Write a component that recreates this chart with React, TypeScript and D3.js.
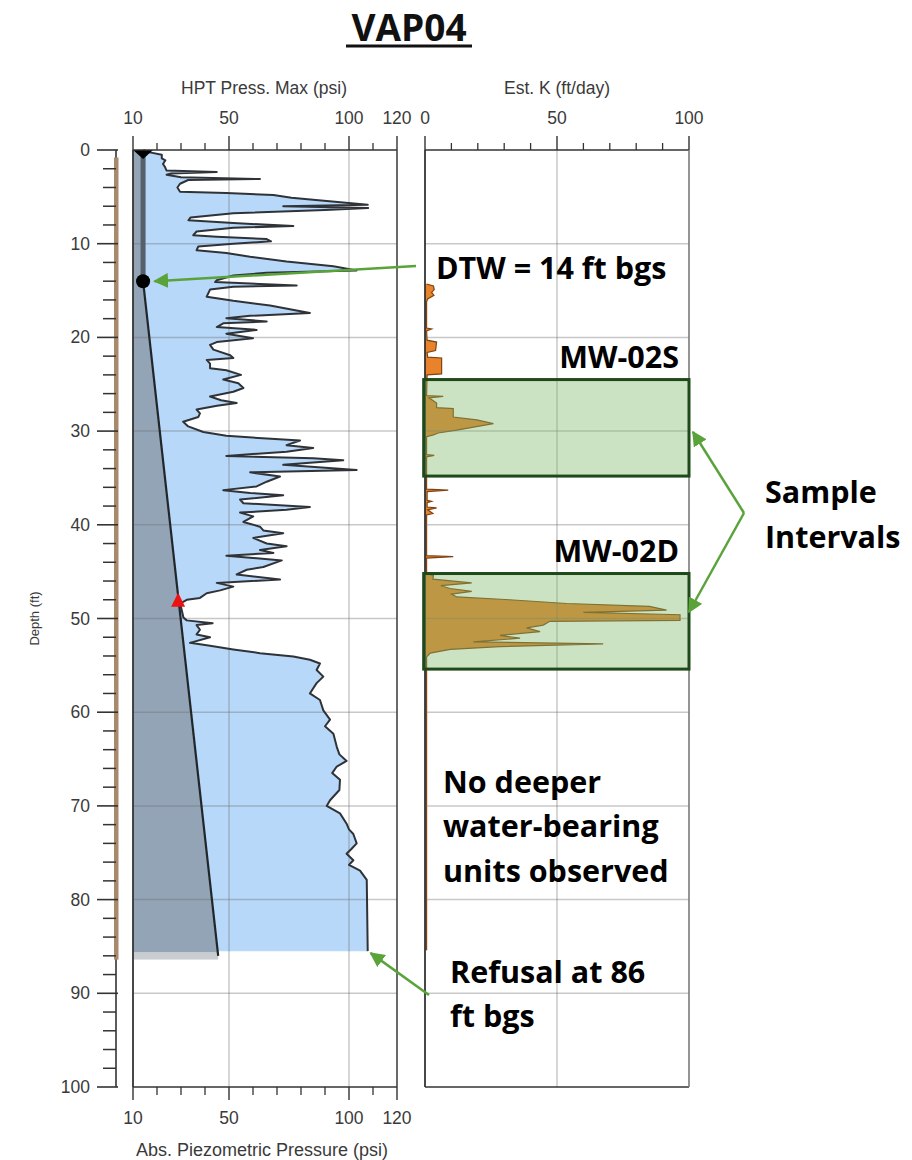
import React from "react";
import * as d3 from "d3";

// ---------------- DATA ----------------
// HPT pressure max trace: depth (ft) and pressure (psi)
const hptDepth = [
  0.0, 0.2, 0.5, 0.9, 1.1, 1.5, 1.8, 2.2, 2.35, 2.5, 2.65, 2.9, 3.1, 3.2, 3.6, 4.0, 4.45, 4.6, 4.8, 5.1,
  5.5, 5.85, 6.0, 6.2, 6.4, 6.75, 7.2, 7.5, 7.8, 8.1, 8.3, 8.7, 9.1, 9.25, 9.5, 9.75, 10.0, 10.3, 10.7, 11.0,
  11.4, 11.9, 12.4, 12.85, 13.1, 13.4, 13.9, 14.1, 14.3, 14.45, 14.6, 14.9, 15.65, 16.1, 16.6, 17.4, 17.7, 17.95, 18.3, 18.5,
  18.9, 19.2, 19.6, 20.1, 20.5, 20.8, 21.3, 21.9, 22.2, 22.4, 22.8, 23.3, 23.5, 24.0, 24.5, 24.9, 25.4, 25.8, 26.3, 26.7,
  27.0, 27.3, 27.7, 28.1, 28.5, 29.0, 29.5, 30.1, 30.5, 30.8, 31.0, 31.5, 31.8, 32.2, 32.65, 32.9, 33.1, 33.6, 34.15, 34.4,
  34.85, 35.4, 35.9, 36.3, 36.6, 36.85, 37.3, 37.7, 38.1, 38.4, 38.7, 39.1, 39.7, 40.2, 40.6, 40.9, 41.4, 42.0, 42.3, 42.7,
  43.0, 43.3, 43.8, 44.5, 44.8, 45.3, 45.85, 46.2, 46.6, 47.0, 47.3, 47.8, 48.0, 48.4, 49.1, 49.9, 50.2, 50.5, 50.7, 51.2,
  51.7, 52.0, 52.6, 52.9, 53.3, 53.7, 54.05, 54.4, 54.8, 55.5, 56.2, 56.9, 58.0, 58.7, 59.8, 60.8, 61.5, 62.3, 63.7, 64.5,
  65.2, 65.8, 66.5, 67.2, 68.3, 69.4, 70.0, 70.8, 71.9, 72.5, 73.0, 74.0, 74.6, 75.1, 75.8, 76.3, 76.9, 77.9, 85.5,
];
const hptPsi = [
  14.3, 16, 22, 22.0, 23.5, 22.5, 23.3, 24, 44.9, 26, 24, 30, 62.9, 33, 29.6, 28.5, 29.6, 48.9, 68.5, 76,
  93, 107.8, 72.6, 108, 90, 51.8, 34, 33.1, 51.8, 76.8, 51.8, 36.5, 35.1, 44.9, 65.7, 67.5, 51.8, 37.2, 36.5, 48.9,
  58.8, 74, 93.5, 103.2, 65.7, 51.8, 44.9, 44.2, 62.9, 78.2, 51.8, 42.1, 40.7, 51.8, 67.1, 83.7, 58.8, 48.9, 65.7, 47.6,
  44.9, 61.5, 48.9, 60, 44.9, 42.1, 43.5, 50.5, 51.8, 40.7, 42.1, 42.1, 48.9, 55, 47.6, 53.9, 56, 51.8, 42.1, 46.7,
  53.2, 45, 36.5, 37.9, 37.2, 30.9, 33, 39.3, 48.9, 65.7, 79.6, 74, 85.1, 74, 48.9, 85.1, 97.6, 72.6, 103.2, 58.8,
  71.25, 65.7, 61.5, 47.6, 58.8, 72.6, 54.6, 56, 83.7, 74, 54.6, 60.1, 56, 62.9, 64.3, 72.6, 60.1, 65.7, 74, 62.9,
  68.5, 48.9, 72, 64.3, 57.4, 53.2, 71.25, 44.9, 51.8, 46.3, 40.7, 37.9, 32.4, 29.6, 30.3, 31, 32.4, 43.2, 36.5, 37.9,
  36.5, 42.1, 33.75, 42.1, 51.8, 62.9, 76.8, 83.7, 87.9, 86.5, 89.3, 86.5, 83.7, 87.9, 89.3, 92.1, 90, 93.5, 94.9, 96,
  99, 94.9, 93, 96.25, 96, 92.1, 90.7, 96.25, 99, 100, 101.8, 103.2, 101, 99, 101.8, 100, 104.6, 107.4, 107.8,
];

// Estimated K trace: depth (ft) and K (ft/day)
const kDepth = [
  14.3, 14.5, 14.9, 15.2, 15.5, 15.9, 16.2, 19.0, 19.1, 19.3, 20.3, 20.5, 21.4, 21.6, 22.1, 22.2, 23.9, 24.0, 26.2, 26.3,
  26.45, 27.0, 27.5, 27.6, 28.5, 28.8, 29.2, 29.5, 29.9, 30.2, 30.4, 30.6, 32.5, 32.6, 32.75, 36.2, 36.3, 36.45, 37.4, 37.5,
  37.65, 38.1, 38.2, 38.4, 38.8, 38.95, 43.3, 43.4, 43.55, 45.2, 45.4, 45.8, 46.2, 46.5, 46.8, 47.1, 47.4, 47.7, 48.0, 48.4,
  48.7, 49.1, 49.35, 49.6, 50.2, 50.3, 50.7, 51.0, 51.4, 51.8, 52.1, 52.5, 52.7, 53.0, 53.3, 53.7, 54.1, 85.4,
];
const kValue = [
  0.6, 3.2, 3.5, 2.5, 3.4, 1.0, 0.6, 0.6, 2.5, 0.6, 0.8, 4.4, 4.0, 0.8, 1.0, 6.3, 6.3, 0.8, 0.6, 6.9,
  1.5, 4.4, 4.4, 10.7, 10.7, 19.6, 25.9, 20, 12, 5, 3.2, 0.6, 0.6, 3.5, 0.6, 0.6, 8.8, 0.8, 0.8, 2.5,
  0.8, 0.8, 4.4, 1.0, 3.0, 0.6, 0.6, 10.7, 0.6, 0.6, 3.2, 3.0, 17.7, 6, 9.5, 17.7, 10, 12, 32, 53.7,
  85, 91.5, 60, 96.6, 96.6, 47.3, 44.8, 38.5, 43.6, 28.4, 36, 18.3, 67.5, 28.4, 9.5, 2, 0.6, 0.6,
];

// Hydrostatic (absolute piezometric) line
const piezoDepth = [0, 14, 86];
const piezoPsi = [14.2, 14.2, 45.5];

const depthMajorTicks = [0, 10, 20, 30, 40, 50, 60, 70, 80, 90, 100];
const hptMajorTicks = [10, 50, 100, 120];
const hptMinorTicks = [20, 30, 40, 60, 70, 80, 90, 110];
const kMajorTicks = [0, 50, 100];
const kMinorTicks = [10, 20, 30, 40, 60, 70, 80, 90];
const hptGrid = [50, 100];
const kGrid = [50];

const sampleNames = ["MW-02S", "MW-02D"];
const sampleTops = [24.5, 45.2];
const sampleBottoms = [34.8, 55.4];

const dtwDepth = 14;
const markerDepth = 48.2;
const markerPsi = 28.8;
const refusalDepth = 85.5;

// ---------------- CHART ----------------
export default function App() {
  const y = d3.scaleLinear().domain([0, 100]).range([150, 1087]);
  const xH = d3.scaleLinear().domain([10, 120]).range([133, 397]);
  const xK = d3.scaleLinear().domain([0, 100]).range([425, 689]);

  const hpt = hptDepth.map((d, i) => ({ d, v: hptPsi[i] }));
  const kData = kDepth.map((d, i) => ({ d, v: kValue[i] }));
  const piezo = piezoDepth.map((d, i) => ({ d, v: piezoPsi[i] }));

  const areaH = d3.area<any>().y((p) => y(p.d)).x0(xH(10)).x1((p) => xH(p.v));
  const lineH = d3.line<any>().x((p) => xH(p.v)).y((p) => y(p.d));
  const areaK = d3.area<any>().y((p) => y(p.d)).x0(xK(0)).x1((p) => xK(p.v));
  const lineK = d3.line<any>().x((p) => xK(p.v)).y((p) => y(p.d));

  const minorDepth = d3.range(0, 101, 2).filter((v) => v % 10 !== 0);
  const grid = "rgba(110,110,110,0.38)";
  const axisFont = "'Liberation Sans', Arial, sans-serif";
  const annFont = "'Open Sans', 'Noto Sans', sans-serif";
  const green = "#5aa33a";
  const top = y(0);
  const bottom = y(100);
  const annSize = 30.5;

  return (
    <svg width={912} height={1160} style={{ position: "absolute", left: 0, top: 0, background: "#fff" }}>
      <defs>
        <marker id="arr" viewBox="0 0 10 10" refX="9" refY="5" markerWidth="15" markerHeight="15" markerUnits="userSpaceOnUse" orient="auto">
          <path d="M0,0 L10,5 L0,10 z" fill={green} />
        </marker>
      </defs>

      {/* Title */}
      <text x={409} y={41} textAnchor="middle" fontFamily={annFont} fontWeight={700} fontSize={37} fill="#111">VAP04</text>
      <line x1={346} x2={472} y1={46} y2={46} stroke="#111" strokeWidth={2.8} />

      {/* Axis titles */}
      <text x={264} y={94} textAnchor="middle" fontFamily={axisFont} fontSize={17.5} fill="#3a3a3a">HPT Press. Max (psi)</text>
      <text x={xK(50)} y={94} textAnchor="middle" fontFamily={axisFont} fontSize={17.5} fill="#3a3a3a">Est. K (ft/day)</text>
      <text x={262} y={1156} textAnchor="middle" fontFamily={axisFont} fontSize={18} fill="#3a3a3a">Abs. Piezometric Pressure (psi)</text>
      <text transform={`translate(39,${y(50)}) rotate(-90)`} textAnchor="middle" fontFamily={axisFont} fontSize={13} fill="#3a3a3a">Depth (ft)</text>

      {/* HPT fills */}
      <path d={areaH(hpt) || ""} fill="#b7d8f8" />
      <path d={areaH(piezo) || ""} fill="#93a4b7" />
      <rect x={xH(10)} y={y(85.6)} width={xH(45.5) - xH(10)} height={y(86.4) - y(85.6)} fill="#c9cdd1" />

      {/* K fill */}
      <path d={areaK(kData) || ""} fill="#e8832c" />
      <path d={lineK(kData) || ""} fill="none" stroke="#7e4512" strokeWidth={1.2} />

      {/* Grid lines */}
      {depthMajorTicks.filter((t) => t > 0 && t < 100).map((t) => (
        <g key={"g" + t}>
          <line x1={xH(10)} x2={xH(120)} y1={y(t)} y2={y(t)} stroke={grid} strokeWidth={1.5} />
          <line x1={xK(0)} x2={xK(100)} y1={y(t)} y2={y(t)} stroke={grid} strokeWidth={1.5} />
        </g>
      ))}
      {hptGrid.map((t) => (
        <line key={"hg" + t} x1={xH(t)} x2={xH(t)} y1={top} y2={bottom} stroke={grid} strokeWidth={1.5} />
      ))}
      {kGrid.map((t) => (
        <line key={"kg" + t} x1={xK(t)} x2={xK(t)} y1={top} y2={bottom} stroke={grid} strokeWidth={1.5} />
      ))}

      {/* HPT trace line and hydrostatic line */}
      <path d={lineH(hpt) || ""} fill="none" stroke="#2f3338" strokeWidth={2} strokeLinejoin="round" />
      <path d={lineH(piezo.slice(0, 2)) || ""} fill="none" stroke="#55606c" strokeWidth={5} />
      <path d={lineH(piezo.slice(1)) || ""} fill="none" stroke="#22262a" strokeWidth={2.2} />

      {/* Markers */}
      <path d={`M${xH(piezoPsi[0]) - 10},${y(0)} L${xH(piezoPsi[0]) + 10},${y(0)} L${xH(piezoPsi[0])},${y(0) + 9} Z`} fill="#000" />
      <circle cx={xH(piezoPsi[0])} cy={y(dtwDepth)} r={7} fill="#000" />
      <path d={`M${xH(markerPsi)},${y(markerDepth) - 9} L${xH(markerPsi) + 7},${y(markerDepth) + 5} L${xH(markerPsi) - 7},${y(markerDepth) + 5} Z`} fill="#ee1111" />

      {/* Panel frames */}
      <line x1={xH(10)} x2={xH(120)} y1={top} y2={top} stroke="#333" strokeWidth={1.6} />
      <line x1={xH(10)} x2={xH(120)} y1={bottom} y2={bottom} stroke="#333" strokeWidth={1.6} />
      <line x1={xH(10)} x2={xH(10)} y1={top} y2={bottom} stroke="#333" strokeWidth={1.8} />
      <line x1={xH(120)} x2={xH(120)} y1={top} y2={bottom} stroke="#444" strokeWidth={1.6} />
      <line x1={xK(0)} x2={xK(100)} y1={top} y2={top} stroke="#333" strokeWidth={1.6} />
      <line x1={xK(0)} x2={xK(100)} y1={bottom} y2={bottom} stroke="#333" strokeWidth={1.6} />
      <line x1={xK(0)} x2={xK(0)} y1={top} y2={bottom} stroke="#333" strokeWidth={1.8} />
      <line x1={xK(100)} x2={xK(100)} y1={top} y2={bottom} stroke="#7a7a7a" strokeWidth={1.6} />

      {/* Top HPT ticks */}
      {hptMajorTicks.map((t) => (
        <g key={"ht" + t}>
          <line x1={xH(t)} x2={xH(t)} y1={top - 14} y2={top} stroke="#333" strokeWidth={1.4} />
          <line x1={xH(t)} x2={xH(t)} y1={bottom} y2={bottom + 13} stroke="#333" strokeWidth={1.4} />
          <text x={xH(t)} y={124} textAnchor="middle" fontFamily={axisFont} fontSize={17.5} fill="#3a3a3a">{t}</text>
          <text x={xH(t)} y={1124} textAnchor="middle" fontFamily={axisFont} fontSize={17.5} fill="#3a3a3a">{t}</text>
        </g>
      ))}
      {hptMinorTicks.map((t) => (
        <g key={"hm" + t}>
          <line x1={xH(t)} x2={xH(t)} y1={top - 7} y2={top} stroke="#333" strokeWidth={1.3} />
          <line x1={xH(t)} x2={xH(t)} y1={bottom} y2={bottom + 8} stroke="#333" strokeWidth={1.3} />
        </g>
      ))}
      {kMajorTicks.map((t) => (
        <g key={"kt" + t}>
          <line x1={xK(t)} x2={xK(t)} y1={top - 14} y2={top} stroke="#333" strokeWidth={1.4} />
          <text x={xK(t)} y={124} textAnchor="middle" fontFamily={axisFont} fontSize={17.5} fill="#3a3a3a">{t}</text>
        </g>
      ))}
      {kMinorTicks.map((t) => (
        <line key={"km" + t} x1={xK(t)} x2={xK(t)} y1={top - 7} y2={top} stroke="#333" strokeWidth={1.3} />
      ))}

      {/* Depth axis */}
      <line x1={116} x2={116} y1={top} y2={bottom} stroke="#333" strokeWidth={1.6} />
      <rect x={114} y={y(0.8)} width={4.5} height={y(86.4) - y(0.8)} fill="#a8896a" />
      {depthMajorTicks.map((t) => (
        <g key={"dt" + t}>
          <line x1={97} x2={118} y1={y(t)} y2={y(t)} stroke="#333" strokeWidth={1.6} />
          <text x={90} y={y(t) + 6} textAnchor="end" fontFamily={axisFont} fontSize={17.5} fill="#3a3a3a">{t}</text>
        </g>
      ))}
      {minorDepth.map((t) => (
        <line key={"dm" + t} x1={103} x2={116} y1={y(t)} y2={y(t)} stroke="#333" strokeWidth={1.5} />
      ))}

      {/* Sample interval boxes */}
      {sampleNames.map((n, i) => (
        <g key={n}>
          <rect x={xK(-0.5)} y={y(sampleTops[i])} width={xK(100) - xK(-0.5)} height={y(sampleBottoms[i]) - y(sampleTops[i])}
            fill="rgba(125,182,105,0.4)" stroke="#1e4a1a" strokeWidth={3} />
          <text x={679} y={y(sampleTops[i]) - 12} textAnchor="end" fontFamily={annFont} fontWeight={700} fontSize={annSize} fill="#000">{n}</text>
        </g>
      ))}

      {/* Annotations */}
      <text x={436} y={279} fontFamily={annFont} fontWeight={700} fontSize={annSize} fill="#000">DTW = 14 ft bgs</text>
      <line x1={416} y1={266} x2={xH(19)} y2={y(dtwDepth)} stroke={green} strokeWidth={2.5} markerEnd="url(#arr)" />

      <text x={765} y={503} fontFamily={annFont} fontWeight={700} fontSize={annSize} fill="#000">Sample</text>
      <text x={765} y={548} fontFamily={annFont} fontWeight={700} fontSize={annSize} fill="#000">Intervals</text>
      <line x1={744} y1={513} x2={693} y2={432} stroke={green} strokeWidth={2.5} markerEnd="url(#arr)" />
      <line x1={744} y1={513} x2={689} y2={612} stroke={green} strokeWidth={2.5} markerEnd="url(#arr)" />

      <text x={443} y={793} fontFamily={annFont} fontWeight={700} fontSize={annSize} fill="#000">No deeper</text>
      <text x={443} y={837} fontFamily={annFont} fontWeight={700} fontSize={annSize} fill="#000">water-bearing</text>
      <text x={443} y={882} fontFamily={annFont} fontWeight={700} fontSize={annSize} fill="#000">units observed</text>

      <text x={450} y={983} fontFamily={annFont} fontWeight={700} fontSize={annSize} fill="#000">Refusal at 86</text>
      <text x={450} y={1027} fontFamily={annFont} fontWeight={700} fontSize={annSize} fill="#000">ft bgs</text>
      <line x1={429} y1={995} x2={xH(107.8) + 3} y2={y(refusalDepth) + 2} stroke={green} strokeWidth={2.5} markerEnd="url(#arr)" />
    </svg>
  );
}
